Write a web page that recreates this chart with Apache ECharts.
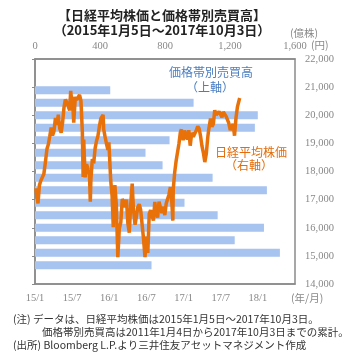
<!DOCTYPE html>
<html>
<head>
<meta charset="utf-8">
<script src="https://cdn.jsdelivr.net/npm/echarts@6/dist/echarts.min.js"></script>
<style>
  html, body { margin: 0; padding: 0; background: #fff; }
  #chart { width: 354px; height: 359px; }
</style>
</head>
<body>
<div id="chart"></div>
<script>
  // 価格帯別売買高 (億株), 上から下へ
  const priceBands = ['21,800', '21,300', '20,900', '20,400', '20,000', '19,600', '19,100', '18,700', '18,200',
    '17,800', '17,300', '16,900', '16,400', '16,000', '15,600', '15,100', '14,700', '14,200']
  const bandVolume = [null, null, 463, 976, 1371, 1353, 828, 680, 785, 1093, 1427, 920, 1124, 1409, 1229, 1507, 717, null]

  // 日経平均株価 (円)
  const nikkeiDates = [
    '2015-01-05', '2015-01-09', '2015-01-16', '2015-01-23', '2015-01-30', '2015-02-06', '2015-02-13', '2015-02-20',
    '2015-02-27', '2015-03-06', '2015-03-13', '2015-03-20', '2015-03-27', '2015-04-03', '2015-04-10', '2015-04-17',
    '2015-04-24', '2015-05-01', '2015-05-08', '2015-05-15', '2015-05-22', '2015-05-29', '2015-06-05', '2015-06-12',
    '2015-06-19', '2015-06-24', '2015-06-26', '2015-07-03', '2015-07-09', '2015-07-17', '2015-07-24', '2015-07-31',
    '2015-08-07', '2015-08-14', '2015-08-21', '2015-08-25', '2015-08-28', '2015-09-04', '2015-09-11', '2015-09-18',
    '2015-09-25', '2015-09-29', '2015-10-02', '2015-10-09', '2015-10-16', '2015-10-23', '2015-10-30', '2015-11-06',
    '2015-11-13', '2015-11-20', '2015-11-27', '2015-12-01', '2015-12-04', '2015-12-11', '2015-12-18', '2015-12-25',
    '2015-12-30',
    '2016-01-08', '2016-01-15', '2016-01-21', '2016-01-22', '2016-01-29', '2016-02-05', '2016-02-12', '2016-02-19',
    '2016-02-26', '2016-03-04', '2016-03-11', '2016-03-18', '2016-03-25', '2016-04-01', '2016-04-08', '2016-04-15',
    '2016-04-22', '2016-04-28', '2016-05-06', '2016-05-13', '2016-05-20', '2016-05-27', '2016-06-03', '2016-06-10',
    '2016-06-17', '2016-06-24', '2016-07-01', '2016-07-08', '2016-07-15', '2016-07-22', '2016-07-29', '2016-08-05',
    '2016-08-12', '2016-08-19', '2016-08-26', '2016-09-02', '2016-09-09', '2016-09-16', '2016-09-23', '2016-09-30',
    '2016-10-07', '2016-10-14', '2016-10-21', '2016-10-28', '2016-11-04', '2016-11-09', '2016-11-11', '2016-11-18',
    '2016-11-25', '2016-12-02', '2016-12-09', '2016-12-16', '2016-12-21', '2016-12-23', '2016-12-30',
    '2017-01-06', '2017-01-13', '2017-01-20', '2017-01-27', '2017-02-03', '2017-02-10', '2017-02-17', '2017-02-24',
    '2017-03-03', '2017-03-10', '2017-03-17', '2017-03-24', '2017-03-31', '2017-04-07', '2017-04-14', '2017-04-21',
    '2017-04-28', '2017-05-02', '2017-05-12', '2017-05-19', '2017-05-26', '2017-06-02', '2017-06-09', '2017-06-16',
    '2017-06-23', '2017-06-30', '2017-07-07', '2017-07-14', '2017-07-21', '2017-07-28', '2017-08-04', '2017-08-10',
    '2017-08-18', '2017-08-25', '2017-09-01', '2017-09-08', '2017-09-15', '2017-09-22', '2017-09-29', '2017-10-03'
  ]
  const nikkeiValues = [
    17408, 17197, 16864, 17511, 17674, 17648, 17913, 18332,
    18797, 18971, 19254, 19560, 19285, 19435, 19908, 19653,
    20020, 19531, 19379, 19732, 20264, 20563, 20461, 20407,
    20174, 20868, 20706, 20539, 19737, 20650, 20544, 20585,
    20724, 20519, 19435, 17806, 19136, 17792, 18264, 18070,
    17880, 16930, 17725, 18438, 18291, 18825, 19083, 19265,
    19597, 19880, 19884, 20012, 19504, 19230, 18986, 18769,
    19034,
    17698, 17147, 16017, 16958, 17518, 16820, 14953, 15967,
    16188, 17015, 16939, 16725, 17003, 16164, 15822, 16848,
    17572, 16666, 16106, 16412, 16736, 16834, 16642, 16601,
    15599, 14952, 15682, 15106, 16497, 16627, 16569, 16254,
    16919, 16545, 16360, 16925, 16965, 16519, 16754, 16450,
    16860, 16856, 17184, 17446, 16905, 16251, 17374, 17968,
    18381, 18426, 18996, 19401, 19494, 19428, 19114,
    19454, 19287, 19137, 19467, 18918, 19379, 19235, 19283,
    19469, 19604, 19521, 19262, 18909, 18665, 18335, 18621,
    19197, 19445, 19883, 19591, 19687, 20177, 20013, 19943,
    20132, 20033, 19929, 20118, 20099, 19959, 19952, 19729,
    19470, 19452, 19691, 19274, 19909, 20296, 20356, 20614
  ]

  const volumeTicks = [0, 400, 800, 1200, 1600]

  // 2015年1月からの経過月数 (下軸)
  function toMonths(s) {
    const [y, m, d] = s.split('-').map(Number)
    const days = new Date(y, m, 0).getDate()
    return (y - 2015) * 12 + (m - 1) + (d - 1) / days
  }
  const nikkeiData = nikkeiDates.map((d, i) => [toMonths(d), nikkeiValues[i]])

  const axisFont = 'Liberation Serif'
  const cjk = '"Noto Sans CJK JP", sans-serif'

  const chart = echarts.init(document.getElementById('chart'))
  chart.setOption({
    animation: false,
    title: {
      text: '【日経平均株価と価格帯別売買高】\n（2015年1月5日～2017年10月3日）',
      left: 162,
      top: 8,
      padding: 0,
      textAlign: 'center',
      textStyle: {
        fontFamily: cjk,
        fontSize: 13,
        fontWeight: 'bold',
        color: '#222',
        lineHeight: 15
      }
    },
    grid: {
      left: 35,
      right: 59,
      top: 59,
      bottom: 75,
      show: true,
      borderColor: '#8a8a8a',
      borderWidth: 1.5
    },
    xAxis: [
      {
        type: 'value',
        position: 'bottom',
        min: 0,
        max: 42,
        interval: 6,
        splitLine: { show: false },
        axisTick: { show: false },
        axisLine: { show: true, lineStyle: { color: '#8a8a8a', width: 1.5 } },
        axisLabel: {
          showMaxLabel: false,
          margin: 9,
          color: '#888',
          fontSize: 10.5,
          fontFamily: axisFont,
          formatter(v) {
            return (15 + Math.floor(v / 12)) + '/' + (v % 12 + 1)
          }
        }
      },
      {
        type: 'value',
        position: 'top',
        min: volumeTicks[0],
        max: volumeTicks[volumeTicks.length - 1],
        interval: 400,
        splitLine: { show: false },
        axisTick: { show: false },
        axisLine: { show: true, lineStyle: { color: '#8a8a8a', width: 1.5 } },
        axisLabel: {
          margin: 7,
          color: '#888',
          fontSize: 10.5,
          fontFamily: axisFont,
          formatter(v) {
            return v.toLocaleString('en-US')
          }
        }
      }
    ],
    yAxis: [
      {
        type: 'category',
        data: priceBands,
        inverse: true,
        show: false
      },
      {
        type: 'value',
        position: 'right',
        min: 14000,
        max: 22000,
        interval: 1000,
        splitLine: { show: false },
        axisLine: { show: true, lineStyle: { color: '#8a8a8a', width: 1.5 } },
        axisTick: { show: true, inside: true, length: 3, lineStyle: { color: '#8a8a8a' } },
        axisLabel: {
          margin: 10,
          color: '#888',
          fontSize: 10.5,
          fontFamily: axisFont,
          formatter(v) {
            return v.toLocaleString('en-US')
          }
        }
      }
    ],
    series: [
      {
        type: 'bar',
        xAxisIndex: 1,
        yAxisIndex: 0,
        data: bandVolume,
        barWidth: 8,
        itemStyle: { color: '#a7c3ef' }
      },
      {
        type: 'line',
        xAxisIndex: 0,
        yAxisIndex: 1,
        data: nikkeiData,
        symbol: 'none',
        lineStyle: { color: '#e8710a', width: 3.5 }
      }
    ],
    graphic: [
      { type: 'text', left: 290, top: 28, style: { text: '(億株)', fontSize: 10.5, fontFamily: cjk, fill: '#888' } },
      { type: 'text', left: 311, top: 40, style: { text: '(円)', fontSize: 10.5, fontFamily: cjk, fill: '#888' } },
      { type: 'text', left: 291, top: 293, style: { text: '(年/月)', fontSize: 10.5, fontFamily: cjk, fill: '#888' } },
      { type: 'text', x: 211, y: 72, style: { text: '価格帯別売買高', fontSize: 12, fontFamily: cjk, fill: '#4a7dc0', align: 'center', verticalAlign: 'middle' } },
      { type: 'text', x: 210, y: 87, style: { text: '（上軸）', fontSize: 12, fontFamily: cjk, fill: '#4a7dc0', align: 'center', verticalAlign: 'middle' } },
      { type: 'text', x: 251, y: 152, style: { text: '日経平均株価', fontSize: 12, fontFamily: cjk, fill: '#e46c0a', align: 'center', verticalAlign: 'middle' } },
      { type: 'text', x: 249, y: 165, style: { text: '（右軸）', fontSize: 12, fontFamily: cjk, fill: '#e46c0a', align: 'center', verticalAlign: 'middle' } },
      { type: 'text', left: 13, top: 314, style: { text: '(注) データは、日経平均株価は2015年1月5日～2017年10月3日。', fontSize: 10.5, fontFamily: cjk, fill: '#333' } },
      { type: 'text', left: 42, top: 327, style: { text: '価格帯別売買高は2011年1月4日から2017年10月3日までの累計。', fontSize: 10.5, fontFamily: cjk, fill: '#333' } },
      { type: 'text', left: 13, top: 340, style: { text: '(出所) Bloomberg L.P.より三井住友アセットマネジメント作成', fontSize: 10.5, fontFamily: cjk, fill: '#333' } }
    ]
  })
</script>
</body>
</html>
